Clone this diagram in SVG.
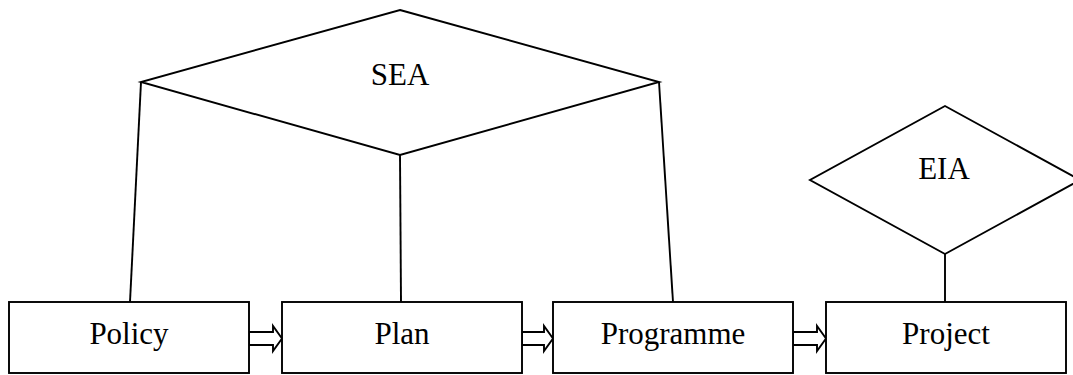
<svg xmlns="http://www.w3.org/2000/svg" width="1073" height="375" viewBox="0 0 1073 375">
<style>
.s{fill:#fff;stroke:#000;stroke-width:1.9}
.l{fill:none;stroke:#000;stroke-width:1.9}
.t{font-family:"Liberation Serif","Times New Roman",serif;font-size:31px;fill:#000;text-anchor:middle}
</style>
<rect width="1073" height="375" fill="#fff"/>
<g id="connectors">
<line class="l" x1="141" y1="82" x2="130" y2="302"/>
<line class="l" x1="400" y1="155" x2="401" y2="302"/>
<line class="l" x1="659" y1="82" x2="673" y2="302"/>
<line class="l" x1="945" y1="254" x2="945" y2="302"/>
<polygon class="s" points="249,332 273,332 273,326 282,338.5 273,351 273,345 249,345"/>
<polygon class="s" points="522,332 544,332 544,326 553,338.5 544,351 544,345 522,345"/>
<polygon class="s" points="793,332 817,332 817,326 826,338.5 817,351 817,345 793,345"/>
</g>
<g id="sea">
<polygon class="s" points="400,10 659,82 400,155 141,82"/>
<text class="t" x="400" y="85">SEA</text>
</g>
<g id="eia">
<polygon class="s" points="945,106 1080,180 945,254 810,180"/>
<text class="t" x="944" y="179">EIA</text>
</g>
<g id="policy">
<rect class="s" x="9" y="302" width="240" height="71"/>
<text class="t" x="129" y="344">Policy</text>
</g>
<g id="plan">
<rect class="s" x="282" y="302" width="240" height="71"/>
<text class="t" x="402" y="344">Plan</text>
</g>
<g id="programme">
<rect class="s" x="553" y="302" width="240" height="71"/>
<text class="t" x="673" y="344">Programme</text>
</g>
<g id="project">
<rect class="s" x="826" y="302" width="240" height="71"/>
<text class="t" x="946" y="344">Project</text>
</g>
</svg>
